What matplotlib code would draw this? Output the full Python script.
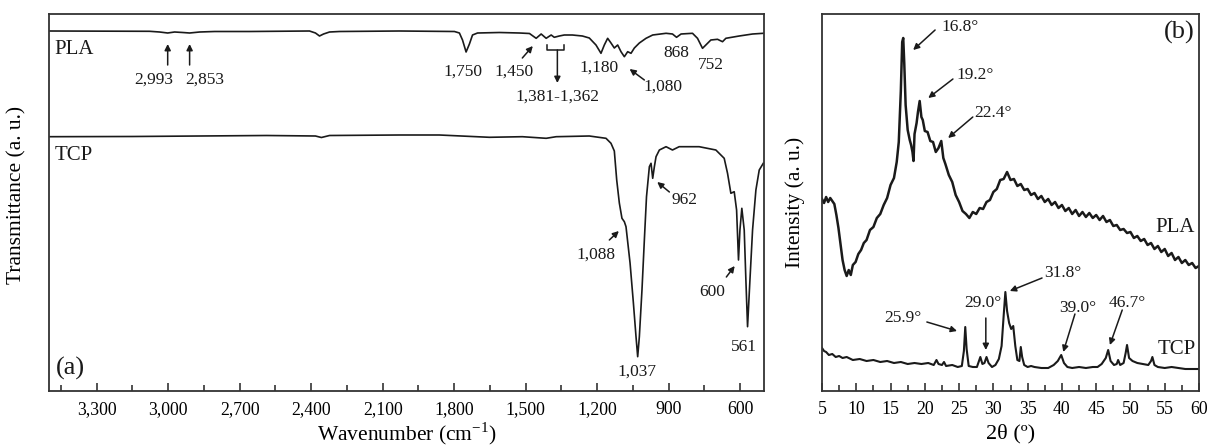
import matplotlib
matplotlib.use("Agg")
import matplotlib.pyplot as plt

plt.rcParams['font.family'] = ['Liberation Serif', 'DejaVu Serif']
plt.rcParams['mathtext.fontset'] = 'custom'
plt.rcParams['mathtext.rm'] = 'Liberation Serif'

# ---- (a) FTIR ----
pla_wn = [3500, 3078, 3036, 3002, 2973, 2939, 2910, 2868, 2805, 2658, 2407, 2382, 2365, 2348,
          2323, 2281, 2030, 1799, 1778, 1765, 1750, 1736, 1723, 1702, 1610, 1526, 1484, 1456,
          1435, 1414, 1393, 1380, 1359, 1338, 1304, 1262, 1233, 1205, 1184, 1170, 1156, 1142,
          1128, 1114, 1100, 1086, 1072, 1058, 1044, 1023, 995, 967, 911, 884, 867, 848, 800,
          779, 758, 744, 723, 695, 674, 660, 604, 548, 503]
pla_t = [360, 359.7, 359, 358, 359, 358.5, 358, 359, 359.5, 359.5, 360, 358, 355, 357,
         359, 359.5, 360, 359.5, 358, 351, 339, 347, 356, 358, 358.5, 358, 357.5, 352.7,
         357, 352.7, 356, 353.7, 355, 356, 356, 355, 353, 346, 337.7, 346, 352.7, 348,
         343, 346, 339.3, 334.3, 339.3, 337.7, 343, 348, 352.7, 356, 357.7, 357, 353.7, 357, 357.7,
         352.7, 342.7, 346, 351, 351.7, 349.3, 352.7, 355, 357, 357.7]

tcp_wn = [3500, 3149, 2868, 2587, 2382, 2357, 2323, 2030, 1862, 1652, 1514, 1414, 1372, 1233,
          1163, 1142, 1128, 1118, 1107, 1096, 1086, 1079, 1062, 1048, 1037, 1030, 1023, 1012,
          1002, 993, 981, 974, 967, 960, 953, 939, 911, 884, 856, 772, 702, 667, 653, 639,
          625, 615, 607, 601, 593, 583, 576, 569, 559, 548, 534, 520, 503]
tcp_t = [254.3, 254.5, 255, 255.5, 255, 253.5, 255.5, 256, 256, 253.7, 254.3, 252.7, 254.3, 255,
         252.7, 247.7, 240, 211, 188, 172.7, 169.3, 164.3, 128, 88, 54.3, 34.3, 54.3, 101,
         151, 194.3, 224.3, 227.7, 212.7, 224.3, 234.3, 241, 244.3, 241, 244.3, 244.3, 241, 232.7, 217.7, 197.7,
         199.3, 181, 131, 161, 182.7, 161, 111, 64.3, 111, 161, 201, 221, 227.7]

wn_ticks = [3300, 3000, 2700, 2400, 2100, 1800, 1500, 1200, 900, 600]
wn_tick_labels = ['3,300', '3,000', '2,700', '2,400', '2,100', '1,800', '1,500', '1,200', '900', '600']

# (label, text x, text y, arrow tail x, tail y, head x, head y)
ftir_labels = [
    ('2,993', 3061, 311, 3002, 326, 3002, 347),
    ('2,853', 2847, 311, 2910, 326, 2910, 347),
    ('1,750', 1765, 319, None, None, None, None),
    ('1,450', 1547, 319, 1514, 333, 1470, 345),
    ('1,381-1,362', 1367, 294, 1367, 341, 1367, 308),
    ('1,180', 1191, 323.7, None, None, None, None),
    ('1,080', 926, 304, 1002, 311, 1064, 322),
    ('868', 869, 338, None, None, None, None),
    ('752', 723, 326, None, None, None, None),
    ('962', 835, 191, 897, 199, 948, 209),
    ('1,088', 1203, 136, 1149, 151, 1109, 160),
    ('600', 717, 99, 658, 114, 623, 125),
    ('561', 583, 44, None, None, None, None),
    ('1,037', 1032, 19, None, None, None, None),
]
bracket_x = [1409, 1409, 1338, 1338]
bracket_y = [346, 341, 341, 346]

# ---- (b) XRD ----
pla_2t = [5.0, 5.3, 5.6, 5.9, 6.2, 6.5, 6.8, 7.1, 7.4, 7.7, 8.0, 8.3, 8.6, 8.9, 9.2, 9.5, 9.9,
          10.3, 10.7, 11.1, 11.5, 12.0, 12.5, 13.0, 13.5, 14.0, 14.5, 15.0, 15.5, 15.9, 16.2,
          16.5, 16.7, 16.85, 17.0, 17.2, 17.5, 17.8, 18.0, 18.2, 18.35, 18.5, 18.8, 19.0, 19.25,
          19.5, 19.7, 20.0, 20.4, 20.8, 21.2, 21.6, 22.0, 22.4, 22.7, 23.0, 23.5, 24.0, 24.5,
          25.0, 25.5, 26.0, 26.5, 27.0, 27.5, 28.0, 28.5, 29.0, 29.5, 30.0, 30.5, 31.0, 31.5,
          32.0, 32.5, 33.0, 33.5, 34.0, 34.5, 35.0, 35.5, 36.0, 36.5, 37.0, 37.5, 38.0, 38.5,
          39.0, 39.5, 40.0, 40.5, 41.0, 41.5, 42.0, 42.5, 43.0, 43.5, 44.0, 44.5, 45.0, 45.5,
          46.0, 46.5, 47.0, 47.5, 48.0, 48.5, 49.0, 49.5, 50.0, 50.5, 51.0, 51.5, 52.0, 52.5,
          53.0, 53.5, 54.0, 54.5, 55.0, 55.5, 56.0, 56.5, 57.0, 57.5, 58.0, 58.5, 59.0, 59.5, 60.0]
pla_i = [192, 188, 194, 189, 193, 190, 187, 176, 163, 147, 131, 121, 115, 121, 116, 126, 129,
         137, 141, 148, 151, 161, 164, 173, 177, 186, 193, 206, 213, 229, 249,
         300, 349, 353, 328, 286, 261, 251, 246, 239, 230, 257, 268, 279, 290,
         274, 271, 260, 259, 250, 249, 239, 243, 250, 233, 227, 216, 209, 196,
         189, 180, 177, 173, 179, 177, 183, 182, 189, 191, 199, 202, 211, 212,
         219, 211, 212, 205, 207, 201, 202, 196, 198, 192, 195, 189, 192, 186,
         189, 183, 186, 180, 183, 177, 181, 175, 179, 174, 178, 173, 176, 171,
         175, 169, 171, 165, 166, 161, 162, 158, 159, 153, 155, 150, 152, 146,
         148, 142, 145, 139, 142, 135, 138, 131, 134, 128, 131, 126, 128, 123, 125]

tcp_2t = [5.0, 5.3, 5.6, 6.0, 6.5, 7.0, 7.5, 8.0, 8.6, 9.5, 10.5, 11.5, 12.5, 13.5, 14.5, 15.5,
          16.5, 17.5, 18.5, 19.5, 20.5, 21.3, 21.7, 22.0, 22.5, 22.8, 23.1, 24.0, 24.8, 25.4,
          25.7, 25.9, 26.1, 26.4, 27.0, 27.6, 27.9, 28.1, 28.4, 28.7, 29.0, 29.3, 29.8, 30.3,
          30.8, 31.2, 31.5, 31.75, 32.0, 32.3, 32.6, 32.9, 33.2, 33.5, 33.8, 34.0, 34.2, 34.5,
          35.0, 35.5, 36.0, 37.0, 38.0, 38.8, 39.4, 39.9, 40.3, 40.8, 41.5, 42.5, 43.5, 44.5,
          45.2, 45.8, 46.4, 46.75, 47.1, 47.6, 48.0, 48.2, 48.5, 49.0, 49.3, 49.5, 49.8, 50.3,
          51.0, 51.8, 52.6, 53.0, 53.2, 53.5, 54.0, 55.0, 56.0, 57.0, 58.0, 59.0, 60.0]
tcp_i = [43, 40, 39, 36, 37, 34, 35, 33, 34, 31, 32, 30, 31, 29, 30, 28,
         29, 27, 28, 27, 28, 26, 31, 27, 26, 29, 25, 26, 24, 25,
         40, 64, 42, 25, 24, 24, 30, 34, 27, 28, 34, 28, 24, 26,
         32, 45, 75, 99, 80, 68, 62, 65, 45, 31, 30, 44, 34, 26,
         24, 25, 24, 23, 23, 26, 30, 36, 28, 24, 23, 24, 23, 24,
         24, 27, 33, 41, 30, 26, 27, 31, 26, 28, 38, 46, 33, 30,
         28, 27, 26, 30, 34, 26, 24, 23, 24, 23, 22, 22, 22]

# (label, text x, text y, arrow tail x, tail y, head x, head y)
xrd_labels = [
    ('16.8°', 25.1, 364, 21.5, 361, 18.3, 341),
    ('19.2°', 27.3, 316, 24.1, 312, 20.5, 293),
    ('22.4°', 29.9, 278, 27.0, 274, 23.4, 253),
    ('31.8°', 40.2, 118, 37.1, 113, 32.4, 100),
    ('29.0°', 28.5, 88, 28.9, 73, 28.9, 41),
    ('25.9°', 16.8, 73, 20.3, 69, 24.7, 60),
    ('39.0°', 42.3, 83, 41.9, 77, 40.2, 39),
    ('46.7°', 49.6, 88, 48.8, 81, 47.0, 46),
]

line_c = '#1a1a1a'
fig = plt.figure(figsize=(12.1, 4.47), dpi=100)
ax1 = fig.add_axes([49 / 1210, 56 / 447, 715 / 1210, 377 / 447])
ax2 = fig.add_axes([822 / 1210, 56 / 447, 377 / 1210, 377 / 447])

arrow = dict(arrowstyle='-|>', color=line_c, lw=1.1, mutation_scale=9, shrinkA=0, shrinkB=0)

# panel a
ax1.plot(pla_wn, pla_t, color=line_c, lw=1.2)
ax1.plot(tcp_wn, tcp_t, color=line_c, lw=1.2)
ax1.plot(bracket_x, bracket_y, color=line_c, lw=1.1)
ax1.set_xlim(3500, 500)
ax1.set_ylim(0, 377)
ax1.set_xticks(wn_ticks)
ax1.set_xticklabels(wn_tick_labels)
ax1.set_xticks([3450 - 300 * k for k in range(10)], minor=True)
ax1.set_yticks([])
for lab, tx, ty, ax_, ay_, hx, hy in ftir_labels:
    ax1.text(tx, ty, lab, ha='center', va='center', fontsize=12.5, color=line_c)
    if ax_ is not None:
        ax1.annotate('', xy=(hx, hy), xytext=(ax_, ay_), arrowprops=arrow)
ax1.text(3478, 342, 'PLA', ha='left', va='center', fontsize=15, color=line_c)
ax1.text(3478, 236, 'TCP', ha='left', va='center', fontsize=15, color=line_c)
ax1.text(3470, 23, '(a)', ha='left', va='center', fontsize=19, color=line_c)
ax1.set_xlabel('Wavenumber (cm$^{\\mathregular{-1}}$)', fontsize=15.5)
ax1.set_ylabel('Transmittance (a. u.)', fontsize=15.5)
ax1.yaxis.set_label_coords(-0.031, 0.52)
ax1.xaxis.set_label_coords(0.5, -0.078)

# panel b
ax2.plot(pla_2t, pla_i, color=line_c, lw=1.8)
ax2.plot(tcp_2t, tcp_i, color=line_c, lw=1.5)
ax2.set_xlim(5, 60)
ax2.set_ylim(0, 377)
ax2.set_xticks(range(5, 61, 5))
ax2.set_xticks([7.5 + 5 * k for k in range(11)], minor=True)
ax2.set_yticks([])
for lab, tx, ty, ax_, ay_, hx, hy in xrd_labels:
    ax2.text(tx, ty, lab, ha='center', va='center', fontsize=12.5, color=line_c)
    ax2.annotate('', xy=(hx, hy), xytext=(ax_, ay_), arrowprops=arrow)
ax2.text(59.4, 164, 'PLA', ha='right', va='center', fontsize=15, color=line_c)
ax2.text(59.6, 41, 'TCP', ha='right', va='center', fontsize=15, color=line_c)
ax2.text(59.3, 359, '(b)', ha='right', va='center', fontsize=19, color=line_c)
ax2.set_xlabel('2θ (º)', fontsize=16)
ax2.set_ylabel('Intensity (a. u.)', fontsize=15.5)
ax2.yaxis.set_label_coords(-0.045, 0.5)
ax2.xaxis.set_label_coords(0.5, -0.088)

for ax in (ax1, ax2):
    for s in ax.spines.values():
        s.set_color('#333333')
        s.set_linewidth(1.3)
    ax.tick_params(axis='x', which='both', direction='in', top=False, labelsize=12.8,
                   pad=7, color='#333333', width=1.2)
    ax.tick_params(axis='x', which='major', length=6)
    ax.tick_params(axis='x', which='minor', length=4)

fig.savefig('out.png', dpi=100)
